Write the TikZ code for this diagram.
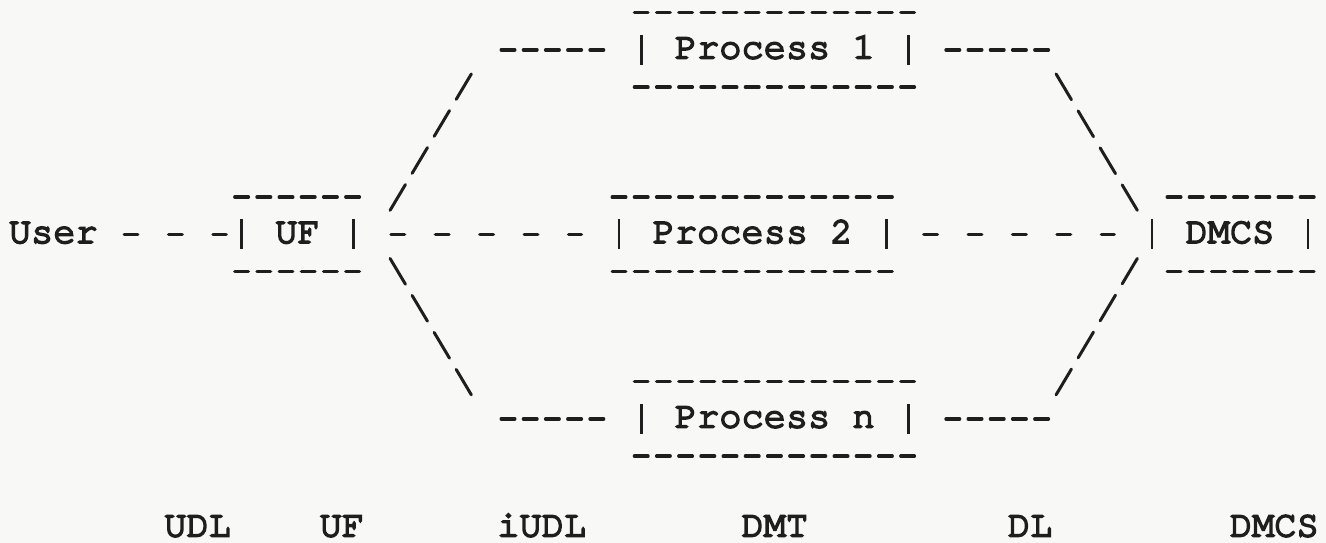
\documentclass[tikz,border=0pt]{standalone}
\usepackage{fontspec}
\newfontfamily\cour{TeX Gyre Cursor}[FakeBold=5]
\usetikzlibrary{calc}
\definecolor{ink}{HTML}{1E1E1E}
\definecolor{paper}{HTML}{F8F8F6}
\newcommand\asciibox[2]{%
  \draw[boxedge] ([xshift=#2]#1.north west) -- ([xshift=3.4pt]#1.north east);
  \draw[boxedge] ([xshift=#2]#1.south west) -- ([xshift=3.4pt]#1.south east);
  \draw[bar] ([yshift=7.5pt]#1.west) -- ([yshift=-7.5pt]#1.west);
  \draw[bar] ([yshift=7.5pt]#1.east) -- ([yshift=-7.5pt]#1.east);
}
\begin{document}
\begin{tikzpicture}[x=11.1pt,y=-18.45pt,
  txt/.style={font=\cour\fontsize{18.5pt}{18.5pt}\selectfont, text=ink, inner sep=0pt, text height=10.5pt, text depth=2pt},
  labeltxt/.style={txt, text depth=0pt},
  procbox/.style={txt, minimum height=36.9pt},
  boxedge/.style={draw=ink, line width=1.7pt, line cap=round, dash pattern=on 6.8pt off 4.3pt},
  bar/.style={draw=ink, line width=1.3pt},
  gapdash/.style={draw=ink, line width=1.7pt, line cap=round, dash pattern=on 6.8pt off 15.4pt},
  slant/.style={draw=ink, line width=1.5pt, line cap=round, dash pattern=on 15pt off 6.53pt}]
\fill[paper] (-0.9009,-0.3523) rectangle (58.8288,14.3631);
\useasboundingbox (-0.9009,-0.3523) rectangle (58.8288,14.3631);

% nodes
\node[txt] (user) at (1.5,6) {User};
\node[procbox, minimum width=55.5pt] (uf) at (12.5,6) {UF};
\node[procbox, minimum width=133.2pt] (p1) at (34,1) {Process 1};
\node[procbox, minimum width=133.2pt] (p2) at (33,6) {Process 2};
\node[procbox, minimum width=133.2pt] (pn) at (34,11) {Process n};
\node[procbox, minimum width=77.7pt] (dmcs) at (54.5,6) {DMCS};

\asciibox{uf}{-3.4pt}
\asciibox{p1}{-3.4pt}
\asciibox{p2}{-3.4pt}
\asciibox{pn}{-3.4pt}
\asciibox{dmcs}{7.7pt}

% middle row connectors
\draw[gapdash] ($(user.center)+(3.5,0)+(-3.4pt,0pt)$) -- ($(uf.west)+(-1,0)+(3.4pt,0pt)$);
\draw[gapdash] ($(uf.east)+(2,0)+(-3.4pt,0pt)$) -- ($(p2.west)+(-2,0)+(3.4pt,0pt)$);
\draw[gapdash] ($(p2.east)+(2,0)+(-3.4pt,0pt)$) -- ($(dmcs.west)+(-2,0)+(3.4pt,0pt)$);

% UF to Process 1
\draw[slant] ($(uf.east)+(2,-1)+(-0.3483,0.3483)$) -- ($(p1.west)+(-8,1)+(0.3483,-0.3483)$);
\draw[boxedge] ($(p1.west)+(-6,0)+(-3.4pt,0pt)$) -- ($(p1.west)+(-2,0)+(3.4pt,0pt)$);
% UF to Process n
\draw[slant] ($(uf.east)+(2,1)+(-0.3483,-0.3483)$) -- ($(pn.west)+(-8,-1)+(0.3483,0.3483)$);
\draw[boxedge] ($(pn.west)+(-6,0)+(-3.4pt,0pt)$) -- ($(pn.west)+(-2,0)+(3.4pt,0pt)$);
% Process 1 to DMCS
\draw[boxedge] ($(p1.east)+(2,0)+(-3.4pt,0pt)$) -- ($(p1.east)+(6,0)+(3.4pt,0pt)$);
\draw[slant] ($(p1.east)+(7,1)+(-0.3483,-0.3483)$) -- ($(dmcs.west)+(-1,-1)+(0.3483,0.3483)$);
% Process n to DMCS
\draw[boxedge] ($(pn.east)+(2,0)+(-3.4pt,0pt)$) -- ($(pn.east)+(6,0)+(3.4pt,0pt)$);
\draw[slant] ($(pn.east)+(7,-1)+(-0.3483,0.3483)$) -- ($(dmcs.west)+(-1,1)+(0.3483,-0.3483)$);

% layer labels
\node[labeltxt] (ludl) at (8,13.9) {UDL};
\node[labeltxt] (luf) at (14.5,13.9) {UF};
\node[labeltxt] (liudl) at (23.5,13.9) {iUDL};
\node[labeltxt] (ldmt) at (34,13.9) {DMT};
\node[labeltxt] (ldl) at (45.5,13.9) {DL};
\node[labeltxt] (ldmcs) at (56.5,13.9) {DMCS};
\end{tikzpicture}
\end{document}
